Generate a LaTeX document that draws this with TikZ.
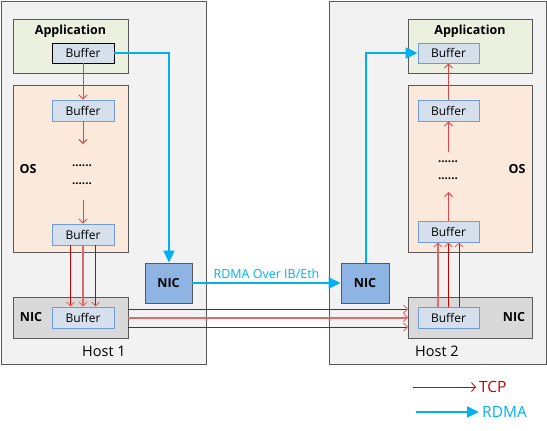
\documentclass[tikz,border=0pt]{standalone}
\usepackage{fontspec}
\setmainfont{Open Sans}
\usetikzlibrary{arrows.meta}
\definecolor{hostfill}{HTML}{F2F2F2}
\definecolor{hostdraw}{HTML}{595959}
\definecolor{appfill}{HTML}{EBF1DE}
\definecolor{osfill}{HTML}{FBE9DB}
\definecolor{nicgray}{HTML}{D9D9D9}
\definecolor{buffill}{HTML}{D6E0EC}
\definecolor{bufdraw}{HTML}{6F9BD8}
\definecolor{nicblue}{HTML}{8EB4E3}
\definecolor{rdmablue}{HTML}{00B0F0}
\definecolor{tcpdark}{HTML}{C80000}
\definecolor{tcplight}{HTML}{DE6A6A}
\definecolor{tcpmid}{HTML}{D94848}
\tikzset{
  hostbox/.style={draw=hostdraw, fill=hostfill, line width=1pt},
  layerbox/.style={draw=hostdraw, line width=0.9pt},
  bufbox/.style={draw=bufdraw, fill=buffill, line width=0.8pt, inner sep=0pt, font=\fontsize{12}{14}\selectfont},
  nicbox/.style={draw=hostdraw, fill=nicblue, line width=0.9pt, inner sep=0pt, font=\bfseries\fontsize{12.5}{14}\selectfont},
  boldlbl/.style={font=\bfseries\fontsize{12.5}{14}\selectfont, inner sep=0pt},
  hostlbl/.style={font=\fontsize{14.5}{17}\selectfont, inner sep=0pt},
  dotlbl/.style={font=\bfseries\fontsize{11.5}{13}\selectfont, inner sep=0pt, anchor=base},
  tcp/.style={draw=tcpmid, line width=0.9pt, -{Straight Barb[length=4pt,width=8pt]}},
  tcpthin/.style={draw=tcpdark, line width=0.8pt, -{Straight Barb[length=4pt,width=8pt,color=tcplight]}},
  tcpthick/.style={draw=tcplight, line width=2pt, -{Straight Barb[length=4pt,width=8pt,line width=0.8pt]}},
  rdma/.style={draw=rdmablue, line width=2pt, -{Triangle[length=12pt,width=11pt]}},
}
\begin{document}
\begin{tikzpicture}[x=1pt,y=-1pt]
\useasboundingbox (0,0) rectangle (547,431);
% hosts
\draw[hostbox] (1,1) rectangle (206,364);
\draw[hostbox] (329,1) rectangle (546,364);
\node[hostlbl] (h1) at (104,351) {Host 1};
\node[hostlbl] (h2) at (437,351) {Host 2};
% host 1 layers
\draw[layerbox, fill=appfill] (13,19) rectangle (128,73);
\node[boldlbl] (app1) at (70.5,31) {Application};
\node[bufbox, draw=black, minimum width=62pt, minimum height=20pt] (ba1) at (83,53) {Buffer};
\draw[layerbox, fill=osfill] (13,85) rectangle (128,252);
\node[boldlbl] (os1) at (28,169) {OS};
\node[bufbox, minimum width=62pt, minimum height=21pt] (bo1a) at (83,110.5) {Buffer};
\node[dotlbl] (d1a) at (82,166) {......};
\node[dotlbl] (d1b) at (82,184) {......};
\node[bufbox, minimum width=62pt, minimum height=21pt] (bo1b) at (83,234.5) {Buffer};
\draw[layerbox, fill=nicgray] (13,297) rectangle (128,338);
\node[boldlbl] (nl1) at (31,317.5) {NIC};
\node[bufbox, minimum width=62pt, minimum height=21pt] (bn1) at (83,317.5) {Buffer};
\coordinate (c1a) at (83,144);
\coordinate (c1b) at (83,200);
\draw[tcp] (ba1.south) -- (bo1a.north);
\draw[tcp] (bo1a.south) -- (c1a);
\draw[tcp] (c1b) -- (bo1b.north);
\draw[tcpthin] (bo1b.south -| 70.5,0) -- (bn1.north -| 70.5,0);
\draw[tcpthick] (bo1b.south) -- (bn1.north);
\draw[tcpthin] (bo1b.south -| 95.5,0) -- (bn1.north -| 95.5,0);
% host 2 layers
\draw[layerbox, fill=appfill] (408,19) rectangle (532,73);
\node[boldlbl] (app2) at (470,31) {Application};
\node[bufbox, minimum width=61pt, minimum height=20pt] (ba2) at (448.5,53) {Buffer};
\draw[layerbox, fill=osfill] (408,85) rectangle (532,252);
\node[boldlbl] (os2) at (517,169) {OS};
\node[bufbox, minimum width=61pt, minimum height=21pt] (bo2a) at (448.5,110.5) {Buffer};
\node[dotlbl] (d2a) at (448,162) {......};
\node[dotlbl] (d2b) at (448,179) {......};
\node[bufbox, minimum width=61pt, minimum height=21pt] (bo2b) at (448.5,231.5) {Buffer};
\draw[layerbox, fill=nicgray] (408,297) rectangle (532,338);
\node[boldlbl] (nl2) at (514,317.5) {NIC};
\node[bufbox, minimum width=61pt, minimum height=21pt] (bn2) at (448.5,317.5) {Buffer};
\coordinate (c2a) at (448.5,152);
\coordinate (c2b) at (448.5,192);
\draw[tcp] (bo2a.north) -- (ba2.south);
\draw[tcp] (c2a) -- (bo2a.south);
\draw[tcp] (bo2b.north) -- (c2b);
\draw[tcpthick] (bn2.north -| 438,0) -- (bo2b.south -| 438,0);
\draw[tcpthin] (bn2.north) -- (bo2b.south);
\draw[tcpthin] (bn2.north -| 459,0) -- (bo2b.south -| 459,0);
% wire between NICs
\coordinate (w1a) at (128,309);
\coordinate (w1b) at (128,317.5);
\coordinate (w1c) at (128,327);
\coordinate (w2a) at (408,309);
\coordinate (w2b) at (408,317.5);
\coordinate (w2c) at (408,327);
\draw[tcpthin] (w1a) -- (w2a);
\draw[tcpthick] (w1b) -- (w2b);
\draw[tcpthin] (w1c) -- (w2c);
% RDMA NICs
\node[nicbox, minimum width=47pt, minimum height=40pt] (na) at (168.5,283) {NIC};
\node[nicbox, minimum width=48pt, minimum height=40pt] (nb) at (365,283) {NIC};
\draw[rdma] (ba1.east) -| (na.north -| 169,0);
\draw[rdma] (na.east) -- node[above=3pt, text=rdmablue, font=\fontsize{12.5}{14}\selectfont, inner sep=0pt] (rl) {RDMA Over IB/Eth} (nb.west);
\draw[rdma] (nb.north -| 366,0) |- (ba2.west);
% legend
\coordinate (lt1) at (413,387);
\coordinate (lt2) at (476,387);
\coordinate (lr1) at (416,412);
\coordinate (lr2) at (479,412);
\draw[draw=tcpdark, line width=0.8pt, -{Straight Barb[length=4pt,width=9pt]}] (lt1) -- (lt2);
\node[anchor=west, inner sep=0pt, text=tcpdark, font=\fontsize{15.5}{18}\selectfont] (ltl) at (479,387) {TCP};
\draw[rdma] (lr1) -- (lr2);
\node[anchor=west, inner sep=0pt, text=rdmablue, font=\fontsize{15.5}{18}\selectfont] (lrl) at (482,412) {RDMA};
\end{tikzpicture}
\end{document}
